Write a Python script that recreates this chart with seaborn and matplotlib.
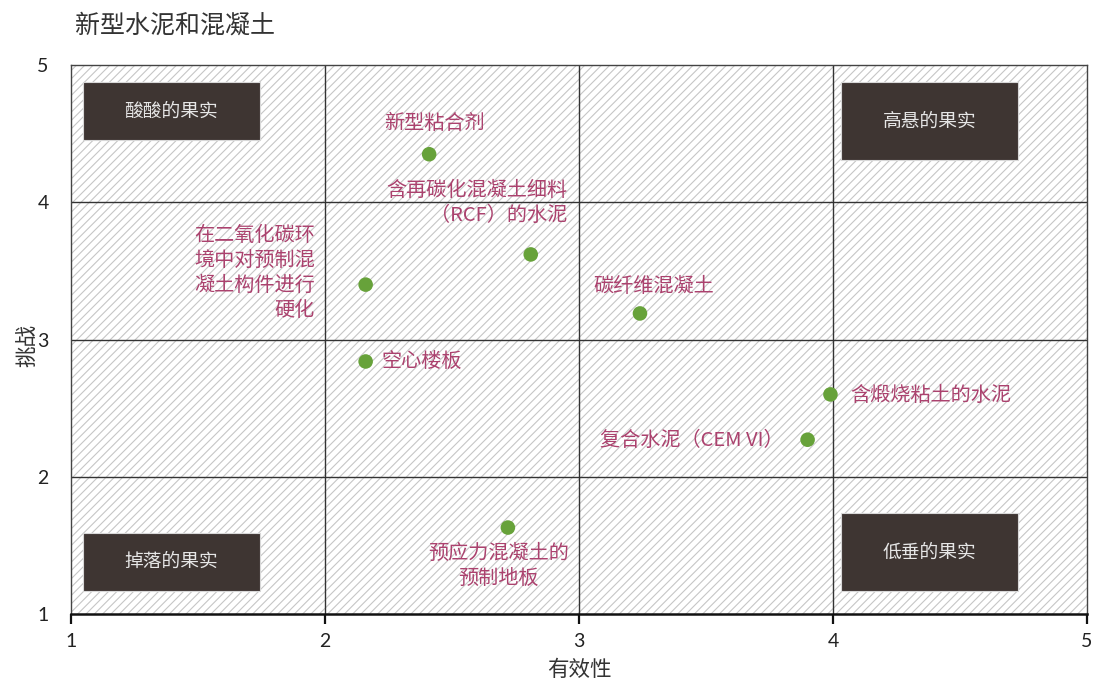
import matplotlib
matplotlib.use("Agg")
import matplotlib.pyplot as plt
import seaborn as sns
import pandas as pd
from matplotlib.patches import Rectangle

# ---- data ----
names = ["新型粘合剂", "含再碳化混凝土细料\n（RCF）的水泥", "在二氧化碳环\n境中对预制混\n凝土构件进行\n硬化",
         "碳纤维混凝土", "空心楼板", "含煅烧粘土的水泥", "复合水泥（CEM VI）", "预应力混凝土的\n预制地板"]
effect = [2.41, 2.81, 2.16, 3.24, 2.16, 3.99, 3.90, 2.72]
challenge = [4.35, 3.62, 3.40, 3.19, 2.84, 2.60, 2.27, 1.63]

quadrants = ["酸酸的果实", "高悬的果实", "掉落的果实", "低垂的果实"]
ticks = [1, 2, 3, 4, 5]

title = "新型水泥和混凝土"
xlabel = "有效性"
ylabel = "挑战"

# ---- layout (label offsets in pixels, alignment) ----
label_layout = [
    (5, 31, "center"),
    (37, 51, "right"),
    (-51, 12, "right"),
    (14, 27, "center"),
    (16, 0, "left"),
    (20, -1, "left"),
    (-24, -1, "left_r"),
    (-9, -38, "center"),
]
box_layout = [
    (1.047, 4.454, 0.697, 0.422),
    (4.03, 4.31, 0.70, 0.566),
    (1.047, 1.17, 0.697, 0.422),
    (4.03, 1.17, 0.70, 0.566),
]

sns.set_theme(style="white")
cjk = ["Noto Sans CJK SC", "DejaVu Sans"]
plt.rcParams["font.family"] = cjk
plt.rcParams["hatch.linewidth"] = 0.8

df = pd.DataFrame({"name": names, "effect": effect, "challenge": challenge})

fig = plt.figure(figsize=(10.94, 6.83), dpi=100)
ax = fig.add_axes([0.0649, 0.101, 0.9287, 0.8038])

# hatched background
bg = Rectangle((0, 0), 1, 1, transform=ax.transAxes, facecolor="white",
               edgecolor="#c6c6c6", hatch="////", linewidth=0, zorder=0)
ax.add_patch(bg)

sns.scatterplot(data=df, x="effect", y="challenge", ax=ax, color="#67a23a",
                s=110, edgecolor="none", zorder=5)

ax.set_xlim(1, 5)
ax.set_ylim(1, 5)
ax.set_xticks(ticks)
ax.set_yticks(ticks)
ax.set_xticklabels([str(t) for t in ticks], fontsize=14, family=["Lato", "DejaVu Sans"], color="#222222")
ax.set_yticklabels([str(t) for t in ticks], fontsize=14, family=["Lato", "DejaVu Sans"], color="#222222")

for v in [2, 3, 4]:
    ax.axvline(v, color="#333333", lw=1.0, zorder=1)
    ax.axhline(v, color="#333333", lw=1.0, zorder=1)

for sp in ["top", "right", "left"]:
    ax.spines[sp].set_color("#444444")
    ax.spines[sp].set_linewidth(1.0)
ax.spines["bottom"].set_color("#111111")
ax.spines["bottom"].set_linewidth(1.8)
ax.tick_params(axis="x", direction="out", length=7, width=1.6, color="#111111", pad=7, bottom=True)
ax.tick_params(axis="y", length=0, pad=16, left=True)

# quadrant boxes
for (x0, y0, w, h), q in zip(box_layout, quadrants):
    ax.add_patch(Rectangle((x0, y0), w, h, facecolor="#3e3532", edgecolor="#d8d8d8",
                           linewidth=0.8, zorder=3))
    ax.text(x0 + w / 2, y0 + h / 2, q, ha="center", va="center", fontsize=13.5,
            color="#e6e6e6", zorder=4)

# point labels
lab_color = "#ab426e"
for (n, x, y), (dx, dy, al) in zip(zip(names, effect, challenge), label_layout):
    ha = "right" if al in ("right", "left_r") else al
    ma = "center" if al == "center" else ("right" if ha == "right" else "left")
    ax.annotate(n, (x, y), xytext=(dx, dy), textcoords="offset pixels",
                ha=ha, va="center", ma=ma, fontsize=14.5, color=lab_color,
                linespacing=1.25, zorder=6)

ax.set_xlabel(xlabel, fontsize=15.5, color="#333333", va="center")
ax.set_ylabel(ylabel, fontsize=15.5, color="#333333", va="center")
ax.xaxis.set_label_coords(0.5, -0.102)
ax.yaxis.set_label_coords(-0.0423, 0.49)

fig.text(0.0685, 0.962, title, fontsize=18, color="#333333", ha="left", va="center")

fig.savefig("out.png", dpi=100)
